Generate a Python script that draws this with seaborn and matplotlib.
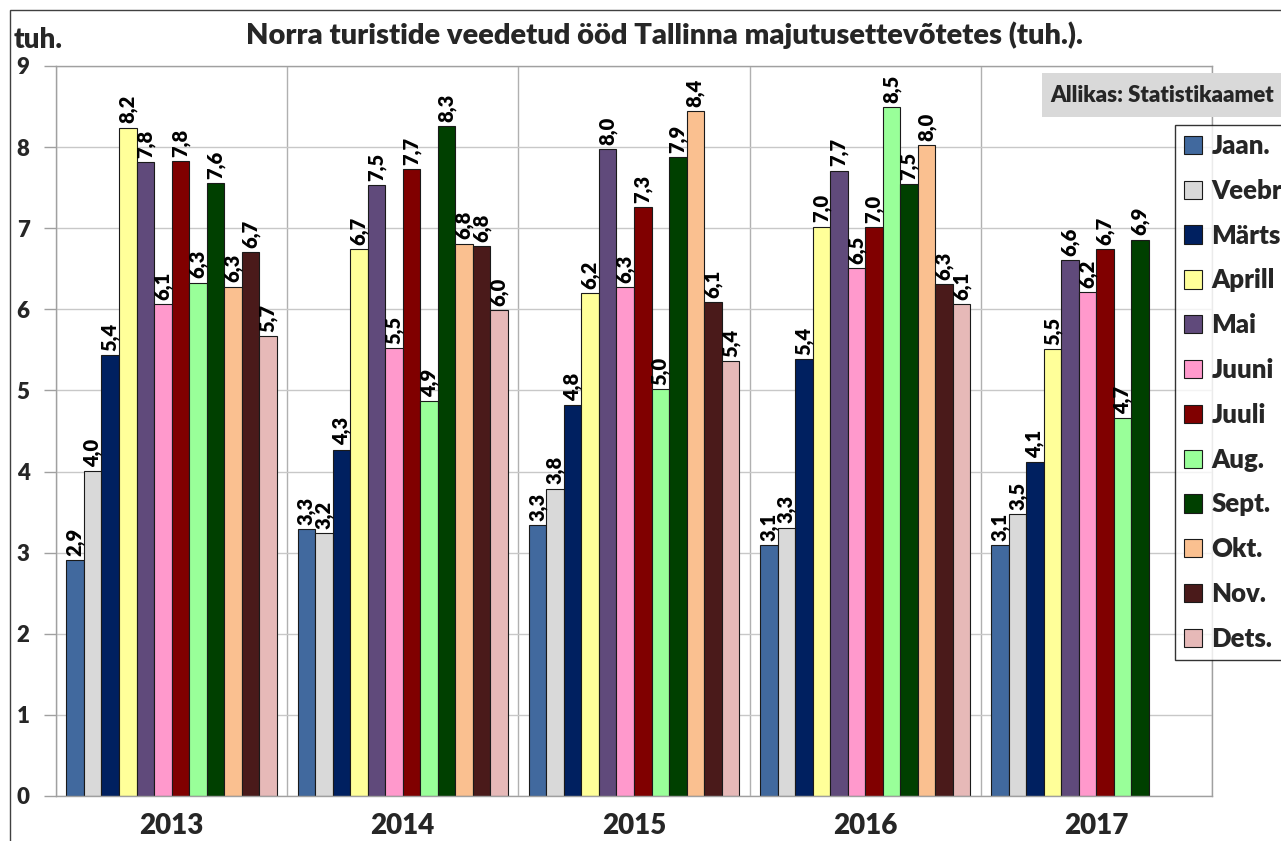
import matplotlib
matplotlib.use("Agg")
import matplotlib.pyplot as plt
from matplotlib.patches import Rectangle
import numpy as np
import pandas as pd
import seaborn as sns

years = ["2013", "2014", "2015", "2016", "2017"]
months = ["Jaan.", "Veebr.", "Märts", "Aprill", "Mai", "Juuni", "Juuli",
          "Aug.", "Sept.", "Okt.", "Nov.", "Dets."]
colors = ["#41699E", "#D9D9D9", "#002060", "#FFFF99", "#604A7B", "#FF99CC",
          "#800000", "#99FF99", "#004000", "#FAC090", "#4A1A1A", "#E6B9B8"]

v2013 = [2.91, 4.01, 5.44, 8.24, 7.82, 6.06, 7.83, 6.33, 7.56, 6.28, 6.71, 5.67]
v2014 = [3.29, 3.24, 4.27, 6.74, 7.53, 5.52, 7.73, 4.87, 8.26, 6.81, 6.78, 5.99]
v2015 = [3.34, 3.79, 4.82, 6.20, 7.98, 6.27, 7.26, 5.02, 7.88, 8.44, 6.09, 5.36]
v2016 = [3.09, 3.31, 5.39, 7.02, 7.71, 6.51, 7.01, 8.49, 7.54, 8.02, 6.31, 6.06]
v2017 = [3.09, 3.48, 4.12, 5.51, 6.61, 6.21, 6.74, 4.66, 6.86, np.nan, np.nan, np.nan]

title = "Norra turistide veedetud ööd Tallinna majutusettevõtetes (tuh.)."
ylabel = "tuh."
source = "Allikas: Statistikaamet"

rows = []
for y, vals in zip(years, [v2013, v2014, v2015, v2016, v2017]):
    for m, v in zip(months, vals):
        if not np.isnan(v):
            rows.append({"year": y, "month": m, "value": v})
df = pd.DataFrame(rows)

W = "heavy"
sns.set_theme(style="white")
plt.rcParams["font.family"] = ["Lato", "DejaVu Sans"]
plt.rcParams["font.weight"] = W

fig = plt.figure(figsize=(12.81, 8.41), dpi=100)
ax = fig.add_axes([56/1281, 1-796/841, (1212-56)/1281, (796-66)/841])

sns.barplot(data=df, x="year", y="value", hue="month", order=years,
            hue_order=months, palette=colors, width=0.91, dodge=True,
            edgecolor="#1a1a1a", linewidth=0.8, saturation=1, ax=ax,
            legend=True)

for cont in ax.containers:
    labels = [f"{b.get_height():.1f}".replace(".", ",") for b in cont]
    ax.bar_label(cont, labels=labels, rotation=90, padding=3,
                 fontsize=14.5, fontweight=W, color="black")

ax.set_xlim(-0.5, 4.5)
ax.set_ylim(0, 9)
ax.set_yticks(range(0, 10))
ax.set_yticklabels([str(i) for i in range(0, 10)], fontsize=16, fontweight=W)
ax.set_xticks(range(5))
ax.set_xticklabels(years, fontsize=20, fontweight=W)
ax.set_xticks(np.arange(-0.5, 5.0, 1.0), minor=True)
ax.tick_params(axis="x", which="major", length=0, pad=12)
ax.tick_params(axis="x", which="minor", length=10, color="#A0A0A0", width=1)
ax.tick_params(axis="y", which="major", length=9, color="#A0A0A0", width=1, pad=10, left=True)
ax.grid(axis="y", color="#C8C8C8", linewidth=1)
ax.grid(axis="x", which="minor", color="#B0B0B0", linewidth=1)
ax.set_axisbelow(True)
ax.set_xlabel("")
ax.set_ylabel("")
for s in ax.spines.values():
    s.set_color("#A0A0A0")
    s.set_linewidth(1)

leg = ax.legend(loc="upper left", bbox_to_anchor=(1175/1281, 1-125/841),
                bbox_transform=fig.transFigure, frameon=True, fancybox=False,
                edgecolor="black", fontsize=18.5, handlelength=0.72,
                handleheight=0.72, labelspacing=0.81, borderaxespad=0,
                borderpad=0.35, handletextpad=0.35)
leg.get_frame().set_linewidth(1)
for t in leg.get_texts():
    t.set_fontweight(W)

fig.text(664/1281, 1-35/841, title, ha="center", va="center",
         fontsize=21, fontweight=W)
fig.text(14/1281, 1-40/841, ylabel, ha="left", va="center",
         fontsize=20, fontweight=W)
fig.patches.append(Rectangle((1042/1281, 1-117/841), 0.2, 44/841,
                             transform=fig.transFigure, facecolor="#D9D9D9",
                             edgecolor="none", zorder=5))
fig.text(1050/1281, 1-96/841, source, ha="left", va="center",
         fontsize=16, fontweight=W, zorder=6)
fig.patches.append(Rectangle((10/1281, -0.2), 1.2, 1.2 - 10/841,
                             transform=fig.transFigure, facecolor="none",
                             edgecolor="#404040", linewidth=1))

fig.savefig("out.png", dpi=100)
